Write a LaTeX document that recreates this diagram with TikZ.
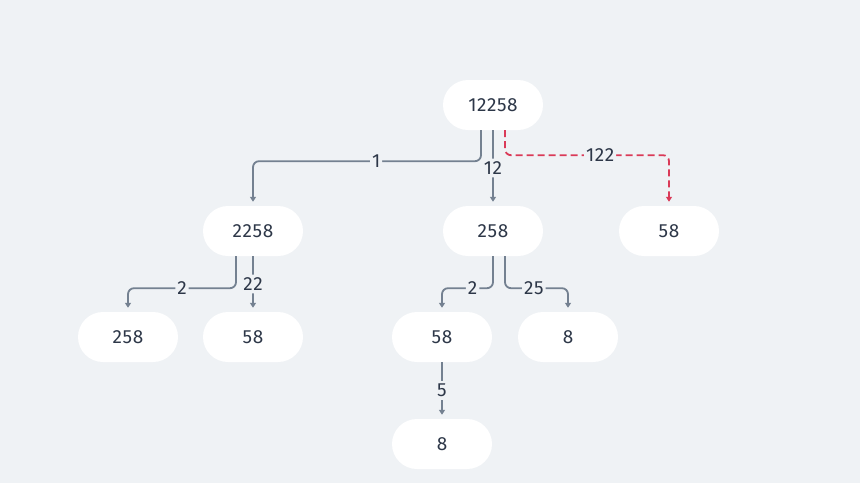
\documentclass[tikz,border=0pt]{standalone}
\usepackage{fontspec}
\setmainfont{Fira Sans}[LetterSpace=3]
\definecolor{bgcol}{RGB}{239,242,245}
\definecolor{linecol}{RGB}{116,129,145}
\definecolor{redcol}{RGB}{218,58,88}
\definecolor{textcol}{RGB}{45,55,72}
\usetikzlibrary{arrows.meta}
\tikzstyle{vertex}=[rectangle,rounded corners=25pt,fill=white,minimum width=100pt,minimum height=50pt,inner sep=0pt,text=textcol,font=\fontsize{19}{22}\selectfont]
\tikzstyle{edge} = [draw,line width=1.8pt,linecol,rounded corners=6pt,-{Triangle[length=5pt,width=6pt]},shorten >=4pt]
\tikzstyle{redge} = [edge,redcol,dashed,dash pattern=on 7pt off 4pt]
\tikzstyle{lbl} = [fill=bgcol,inner xsep=2pt,inner ysep=3pt,text=textcol,font=\fontsize{19}{22}\selectfont]

\begin{document}
\begin{tikzpicture}[x=1pt,y=-1pt]
                    \fill[bgcol] (0,0) rectangle (860,483);

                    \node[vertex] (r) at (493,105) {12258};
                    \node[vertex] (a) at (253,231) {2258};
                    \node[vertex] (b) at (493,231) {258};
                    \node[vertex] (c) at (669,231) {58};
                    \node[vertex] (aa) at (128,337) {258};
                    \node[vertex] (ab) at (253,337) {58};
                    \node[vertex] (ba) at (442,337) {58};
                    \node[vertex] (bb) at (568,337) {8};
                    \node[vertex] (baa) at (442,444) {8};

                    \path[edge] ([xshift=-12pt]r.south) -- ++(0,31) -| node[lbl,pos=0.23] {1} (a.north);
                    \path[edge] (r.south) -- node[lbl] {12} (b.north);
                    \path[redge] ([xshift=12pt]r.south) -- ++(0,25) -| node[lbl,pos=0.29] {122} (c.north);

                    \path[edge] ([xshift=-17pt]a.south) -- ++(0,32) -| node[lbl,pos=0.25] {2} (aa.north);
                    \path[edge] (a.south) -- node[lbl] {22} (ab.north);

                    \path[edge] (b.south) -- ++(0,32) -| node[lbl,pos=0.2] {2} (ba.north);
                    \path[edge] ([xshift=12pt]b.south) -- ++(0,32) -| node[lbl,pos=0.23] {25} (bb.north);

                    \path[edge] (ba.south) -- node[lbl] {5} (baa.north);
                \end{tikzpicture}
\end{document}
